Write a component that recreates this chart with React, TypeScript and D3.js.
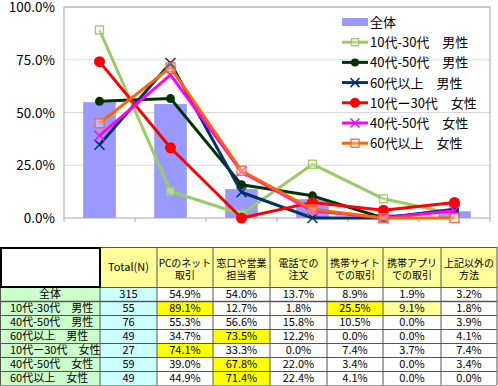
import React from "react";
import * as d3 from "d3";

const W = 498;
const H = 386;

const categories = ["PCのネット\n取引", "窓口や営業\n担当者", "電話での\n注文", "携帯サイト\nでの取引", "携帯アプリ\nでの取引", "上記以外の\n方法"];
const groups = ["全体", "10代-30代　男性", "40代-50代　男性", "60代以上　男性", "10代ー30代　女性", "40代-50代　女性", "60代以上　女性"];
const totals = [315, 55, 76, 49, 27, 59, 49];

// rows = groups, columns = categories (percent)
const overall = [54.9, 54.0, 13.7, 8.9, 1.9, 3.2];
const male1030 = [89.1, 12.7, 1.8, 25.5, 9.1, 1.8];
const male4050 = [55.3, 56.6, 15.8, 10.5, 0.0, 3.9];
const male60 = [34.7, 73.5, 12.2, 0.0, 0.0, 4.1];
const female1030 = [74.1, 33.3, 0.0, 7.4, 3.7, 7.4];
const female4050 = [39.0, 67.8, 22.0, 3.4, 0.0, 3.4];
const female60 = [44.9, 71.4, 22.4, 4.1, 0.0, 0.0];

const yTicks = [0, 25, 50, 75, 100];

// highlighted cells: [row, col, strong]
const highlights: [number, number, boolean][] = [
  [1, 0, true], [4, 0, true], [3, 1, true], [5, 1, true], [6, 1, true], [1, 3, true], [1, 4, false],
];

type Marker = "square" | "circle" | "x";
const lineSeries: { name: string; values: number[]; color: string; marker: Marker; mcolor: string; r: number }[] = [
  { name: groups[1], values: male1030, color: "#99CC66", marker: "square", mcolor: "#99CC66", r: 4 },
  { name: groups[2], values: male4050, color: "#003300", marker: "circle", mcolor: "#003300", r: 4.5 },
  { name: groups[3], values: male60, color: "#003366", marker: "x", mcolor: "#003366", r: 5 },
  { name: groups[4], values: female1030, color: "#FF0000", marker: "circle", mcolor: "#FF0000", r: 5.5 },
  { name: groups[5], values: female4050, color: "#FF00FF", marker: "x", mcolor: "#FF00FF", r: 5 },
  { name: groups[6], values: female60, color: "#FF6600", marker: "square", mcolor: "#FF6633", r: 4.5 },
];
const allRows = [overall, male1030, male4050, male60, female1030, female4050, female60];

const FONT = "'Noto Sans CJK JP', 'Noto Sans', sans-serif";

function MarkerShape({ m, x, y, c, r }: { m: Marker; x: number; y: number; c: string; r: number }) {
  if (m === "circle") return <circle cx={x} cy={y} r={r} fill={c} />;
  if (m === "square")
    return <rect x={x - r} y={y - r} width={r * 2} height={r * 2} fill="white" fillOpacity={0.3} stroke={c} strokeWidth={1.3} />;
  return (
    <g stroke={c} strokeWidth={1.5}>
      <line x1={x - r} y1={y - r} x2={x + r} y2={y + r} />
      <line x1={x - r} y1={y + r} x2={x + r} y2={y - r} />
    </g>
  );
}

export default function App() {
  const plot = { l: 64, r: 490, t: 7, b: 218 };
  const x = d3.scaleBand<number>().domain(d3.range(categories.length)).range([plot.l, plot.r]).padding(0);
  const y = d3.scaleLinear().domain([0, 100]).range([plot.b, plot.t]);
  const bw = x.bandwidth() * 0.46;
  const cx = (i: number) => (x(i) as number) + x.bandwidth() / 2;
  const line = d3.line<number>().x((_, i) => cx(i)).y((d) => y(d));

  // table layout
  const colX = [0, 100, 157, 213, 270, 327, 383, 441, 497];
  const headT = 247, headB = 287, rowH = 14;
  const rowY = (i: number) => headB + i * rowH;

  const legendY = (i: number) => 22 + i * 20.2;

  return (
    <div style={{ position: "absolute", left: 0, top: 0 }}>
      <svg width={W} height={H} style={{ display: "block", fontFamily: FONT }}>
        <rect width={W} height={H} fill="white" />
        {/* grid */}
        {yTicks.map((t) => (
          <g key={t}>
            {t > 0 && <line x1={plot.l} x2={plot.r} y1={y(t)} y2={y(t)} stroke="#D9D9D9" />}
            <text x={55} y={y(t) + 5} textAnchor="end" fontSize={13.5} fill="#000">
              {t.toFixed(1)}%
            </text>
          </g>
        ))}
        <rect x={plot.l} y={plot.t} width={plot.r - plot.l} height={plot.b - plot.t} fill="none" stroke="#A6A6A6" />
        {d3.range(categories.length + 1).map((i) => {
          const xx = i < categories.length ? (x(i) as number) : plot.r;
          return <line key={i} x1={xx} x2={xx} y1={plot.b} y2={plot.b + 4} stroke="#A6A6A6" />;
        })}
        {/* bars */}
        {overall.map((v, i) => (
          <rect key={i} x={cx(i) - bw / 2} y={y(v)} width={bw} height={plot.b - y(v)} fill="#9999FF" />
        ))}
        {/* lines */}
        {lineSeries.map((s) => (
          <g key={s.name}>
            <path d={line(s.values) || ""} fill="none" stroke={s.color} strokeWidth={3} strokeLinejoin="round" />
            {s.values.map((v, i) => (
              <MarkerShape key={i} m={s.marker} x={cx(i)} y={y(v)} c={s.mcolor} r={s.r} />
            ))}
          </g>
        ))}
        {/* legend */}
        <g fontSize={13}>
          <rect x={342} y={legendY(0) - 4} width={26} height={8} fill="#9999FF" />
          <text x={370} y={legendY(0) + 5}>{groups[0]}</text>
          {lineSeries.map((s, k) => {
            const ly = legendY(k + 1);
            return (
              <g key={s.name}>
                <line x1={342} x2={368} y1={ly} y2={ly} stroke={s.color} strokeWidth={3} />
                <MarkerShape m={s.marker} x={355} y={ly} c={s.mcolor} r={s.r - 0.5} />
                <text x={370} y={ly + 5}>{s.name}</text>
              </g>
            );
          })}
        </g>

        {/* table */}
        <g fontSize={11}>
          <rect x={colX[1]} y={headT} width={colX[8] - colX[1]} height={headB - headT} fill="#FFFF99" />
          <rect x={colX[0]} y={headB} width={colX[1]} height={rowH * 7} fill="#CCFFCC" />
          <rect x={colX[1]} y={headB} width={colX[2] - colX[1]} height={rowH * 7} fill="#CCFFFF" />
          {highlights.map(([r, c, strong]) => (
            <rect key={`${r}-${c}`} x={colX[c + 2]} y={rowY(r)} width={colX[c + 3] - colX[c + 2]} height={rowH} fill={strong ? "#FFFF00" : "#FFFF99"} />
          ))}
          {/* grid lines */}
          {colX.slice(1).map((cxv, i) => (
            <line key={i} x1={cxv} x2={cxv} y1={headT} y2={rowY(7)} stroke="#555" />
          ))}
          <line x1={colX[1]} x2={colX[8]} y1={headT + 0.5} y2={headT + 0.5} stroke="#555" />
          {d3.range(8).map((r) => (
            <line key={r} x1={0} x2={colX[8]} y1={rowY(r) + 0.5} y2={rowY(r) + 0.5} stroke={r === 7 ? "#999" : "#555"} strokeWidth={r === 1 ? 1.6 : 1} />
          ))}
          <line x1={0.5} x2={0.5} y1={headB} y2={rowY(7)} stroke="#555" />
          <rect x={1} y={headT + 1} width={colX[1] - 1} height={headB - headT - 1} fill="white" stroke="#000" strokeWidth={2} />
          {/* header text */}
          <text x={(colX[1] + colX[2]) / 2} y={271} textAnchor="middle">Total(N)</text>
          <g fontSize={10}>
            {categories.map((c, i) => {
              const mx = (colX[i + 2] + colX[i + 3]) / 2;
              const [l1, l2] = c.split("\n");
              return (
                <text key={i} x={mx} y={266.5} textAnchor="middle">
                  <tspan x={mx}>{l1}</tspan>
                  <tspan x={mx} dy={12.5}>{l2}</tspan>
                </text>
              );
            })}
          </g>
          {/* rows */}
          {groups.map((g, r) => (
            <g key={g}>
              <text x={r === 0 ? colX[1] / 2 : 10} y={rowY(r) + 11} textAnchor={r === 0 ? "middle" : "start"}>{g}</text>
              <text x={(colX[1] + colX[2]) / 2} y={rowY(r) + 11} textAnchor="middle">{totals[r]}</text>
              {allRows[r].map((v, c) => (
                <text key={c} x={(colX[c + 2] + colX[c + 3]) / 2} y={rowY(r) + 11} textAnchor="middle">{v.toFixed(1)}%</text>
              ))}
            </g>
          ))}
        </g>
      </svg>
    </div>
  );
}
